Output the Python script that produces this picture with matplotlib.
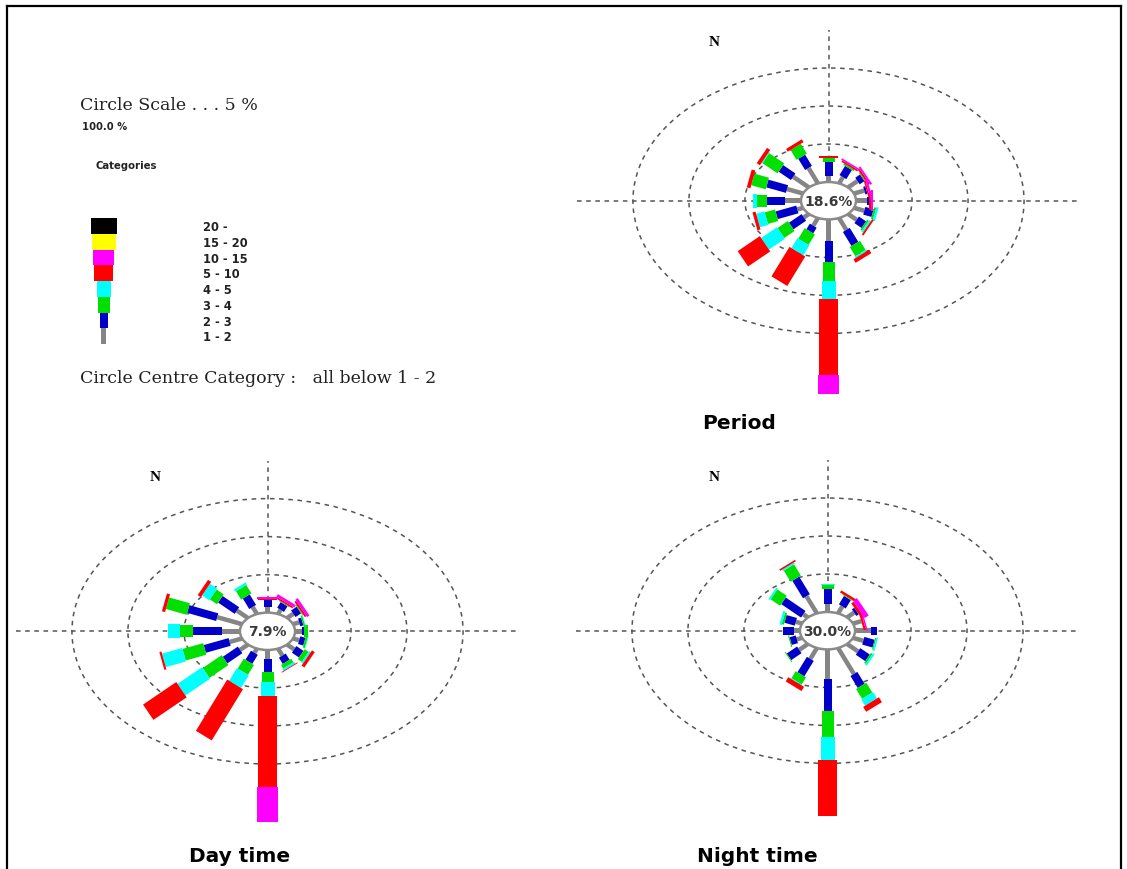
import matplotlib.pyplot as plt
import numpy as np
from matplotlib.patches import Circle, Polygon
from matplotlib.lines import Line2D

W, H = 1127, 870

# 16 directions, clockwise from north
dirs = ['N', 'NNE', 'NE', 'ENE', 'E', 'ESE', 'SE', 'SSE',
        'S', 'SSW', 'SW', 'WSW', 'W', 'WNW', 'NW', 'NNW']
angles = np.arange(16) * 22.5

# wind speed classes (m/s)
classes = ['1 - 2', '2 - 3', '3 - 4', '4 - 5', '5 - 10', '10 - 15', '15 - 20', '20 -']
class_colors = ['#858585', '#0000c8', '#00e000', '#00ffff', '#ff0000', '#ff00ff', '#ffff00', '#000000']
bar_px = [4.5, 8, 12, 14, 18.5, 21, 24, 26]   # petal thickness in pixels

# frequency (%) of each class per direction
period_12 = [0.8, 0.9, 1.2, 1.0, 1.0, 1.0, 1.1, 1.7, 2.8, 1.1, 0.65, 0.55, 1.4, 1.55, 2.0, 2.2]
period_23 = [1.85, 1.3, 0.6, 0.2, 0.2, 0.8, 0.9, 2.0, 2.76, 0.8, 1.6, 2.0, 1.6, 1.9, 1.55, 1.6]
period_34 = [0.5, 0.2, 0.1, 0.0, 0.0, 0.2, 0.2, 1.3, 2.5, 1.5, 1.3, 1.0, 0.9, 1.4, 1.9, 1.4]
period_45 = [0.0, 0.0, 0.0, 0.0, 0.0, 0.2, 0.2, 0.2, 2.4, 1.4, 2.0, 0.8, 0.35, 0.0, 0.1, 0.0]
period_510 = [0.3, 0.2, 0.2, 0.15, 0.1, 0.0, 0.2, 0.5, 10.0, 4.2, 2.8, 0.3, 0.0, 0.35, 0.4, 0.4]
period_1015 = [0.0, 0.2, 0.2, 0.2, 0.2, 0.0, 0.0, 0.0, 2.5, 0.0, 0.0, 0.0, 0.0, 0.0, 0.0, 0.0]

day_12 = [0.7, 0.6, 0.8, 0.6, 0.6, 0.6, 0.9, 1.0, 1.2, 0.6, 1.0, 1.2, 1.6, 2.4, 1.4, 1.0]
day_23 = [0.9, 0.8, 0.7, 0.3, 0.2, 0.5, 0.9, 0.9, 1.7, 1.3, 1.9, 2.4, 2.6, 2.8, 2.1, 1.5]
day_34 = [0.0, 0.1, 0.1, 0.15, 0.35, 0.2, 0.5, 0.5, 1.3, 1.4, 2.4, 2.0, 1.15, 2.0, 0.9, 1.2]
day_45 = [0.0, 0.0, 0.0, 0.05, 0.0, 0.05, 0.2, 0.25, 1.85, 1.8, 3.1, 1.95, 1.1, 0.0, 0.9, 0.3]
day_510 = [0.25, 0.2, 0.2, 0.0, 0.0, 0.0, 0.35, 0.1, 12.0, 7.3, 4.2, 0.2, 0.0, 0.3, 0.4, 0.0]
day_1015 = [0.2, 0.35, 0.3, 0.0, 0.0, 0.0, 0.0, 0.0, 4.6, 0.0, 0.0, 0.0, 0.0, 0.0, 0.0, 0.0]

night_12 = [1.05, 1.0, 0.9, 0.8, 1.45, 1.0, 1.4, 3.7, 3.9, 1.55, 1.1, 0.5, 0.5, 0.6, 0.6, 2.45]
night_23 = [2.0, 1.2, 0.3, 0.0, 0.5, 1.0, 1.2, 1.7, 4.2, 2.2, 1.3, 0.6, 1.0, 1.0, 2.5, 2.5]
night_34 = [0.5, 0.1, 0.0, 0.0, 0.0, 0.1, 0.2, 1.4, 3.4, 1.0, 0.1, 0.1, 0.05, 0.2, 1.2, 1.6]
night_45 = [0.15, 0.0, 0.0, 0.0, 0.0, 0.15, 0.2, 0.9, 3.1, 0.1, 0.0, 0.0, 0.0, 0.2, 0.2, 0.2]
night_510 = [0.0, 0.3, 0.3, 0.2, 0.0, 0.0, 0.0, 0.7, 7.3, 0.6, 0.0, 0.0, 0.0, 0.0, 0.0, 0.2]
night_1015 = [0.0, 0.0, 0.5, 0.15, 0.0, 0.0, 0.0, 0.0, 0.0, 0.0, 0.0, 0.0, 0.0, 0.0, 0.0, 0.0]

calms = {'Period': '18.6%', 'Day time': '7.9%', 'Night time': '30.0%'}

# layout: pixels per percent (the original image is stretched sideways)
SX, SY = 11.2, 7.6
R0 = 2.46          # radius of the calm circle, in %
RING_STEP = 5      # circle scale 5 %

plt.rcParams['font.family'] = ['DejaVu Sans']
fig = plt.figure(figsize=(W / 100, H / 100), dpi=100)


def fpos(x, y):
    return x / W, 1 - y / H


def rose(cx, cy, segs, name, title_xy, n_xy, xr=23, yr=26):
    ax = fig.add_axes([(cx - xr * SX) / W, 1 - (cy + yr * SY) / H,
                       2 * xr * SX / W, 2 * yr * SY / H])
    ax.set_xlim(-xr, xr)
    ax.set_ylim(-yr, yr)
    ax.set_aspect('auto')
    ax.axis('off')

    dash = (0, (3, 3))
    L = R0 + 20
    ax.plot([-L, L], [0, 0], color='#555555', lw=1.1, ls=dash, zorder=1)
    ax.plot([0, 0], [-L, L], color='#555555', lw=1.1, ls=dash, zorder=1)
    for k in (1, 2, 3):
        ax.add_patch(Circle((0, 0), R0 + k * RING_STEP, fill=False,
                            ec='#555555', lw=1.1, ls=dash, zorder=1))

    for i, ang in enumerate(np.radians(angles)):
        u = np.array([np.sin(ang), np.cos(ang)])
        # perpendicular with a fixed thickness in pixels
        perp = np.array([SY * np.cos(ang), -SX * np.sin(ang)])
        perp /= np.hypot(*perp)
        r = R0
        for c, vals in enumerate(segs):
            v = vals[i]
            if v <= 0:
                continue
            hp = perp * bar_px[c] / 2 / np.array([SX, SY])
            a, b = r, r + v
            pts = [a * u + hp, b * u + hp, b * u - hp, a * u - hp]
            ax.add_patch(Polygon(pts, closed=True, fc=class_colors[c],
                                 ec='none', zorder=3 + c))
            r = b

    ax.add_patch(Circle((0, 0), R0, fc='white', ec='#8a8a8a', lw=1.8, zorder=20))
    ax.text(0, 0, calms[name], ha='center', va='center', fontsize=10,
            fontweight='bold', color='#3a3a3a', zorder=21)

    fig.text(*fpos(*n_xy), 'N', ha='center', va='center', fontsize=11,
             fontweight='bold', family='Liberation Serif')
    fig.text(*fpos(*title_xy), name, ha='center', va='center', fontsize=14.5,
             fontweight='bold')


rose(828.5, 201.7,
     [period_12, period_23, period_34, period_45, period_510, period_1015],
     'Period', (739, 424), (714, 43), xr=24, yr=26)
rose(267.5, 632.3,
     [day_12, day_23, day_34, day_45, day_510, day_1015],
     'Day time', (240, 857), (155, 478))
rose(827.5, 631.7,
     [night_12, night_23, night_34, night_45, night_510, night_1015],
     'Night time', (757, 857), (714, 478))

# legend of categories
lax = fig.add_axes([(103.5 - 20) / W, 1 - 345 / H, 40 / W, 126 / H])
lax.set_xlim(-20, 20)
lax.set_ylim(0, len(classes))
lax.axis('off')
lax.bar(np.zeros(len(classes)), np.ones(len(classes)), bottom=np.arange(len(classes)),
        width=bar_px, color=class_colors, align='center')
for k, lab in enumerate(classes):
    lax.text(203 - 103.5, k + 0.45, lab, ha='left', va='center',
             fontsize=8.3, fontweight='bold', color='#222222', clip_on=False)

fig.text(*fpos(80, 105), 'Circle Scale . . . 5 %', ha='left', va='center',
         fontsize=12.5, family='DejaVu Serif', color='#222222')
fig.text(*fpos(82, 127), '100.0 %', ha='left', va='center',
         fontsize=7.2, fontweight='bold', color='#222222')
fig.text(*fpos(95, 166), 'Categories', ha='left', va='center',
         fontsize=7.3, fontweight='bold', color='#222222')
fig.text(*fpos(80, 379), 'Circle Centre Category :   all below 1 - 2', ha='left', va='center',
         fontsize=12.5, family='DejaVu Serif', color='#222222')

# frame
for xs, ys in [([7, 7], [7, H]), ([7, 1121], [7, 7]), ([1121, 1121], [7, H])]:
    fig.add_artist(Line2D([x / W for x in xs], [1 - y / H for y in ys],
                          color='black', lw=1.6))

fig.savefig('out.png', dpi=100)
